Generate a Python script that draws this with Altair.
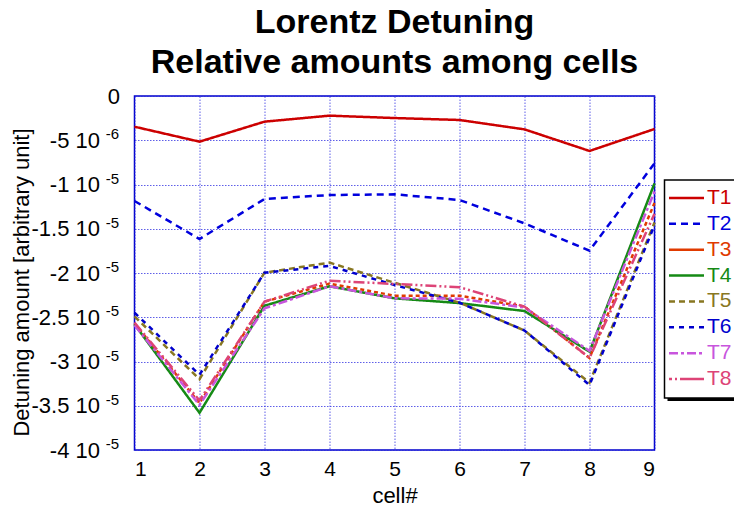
import altair as alt
import pandas as pd

# ---- data (in units of 1e-6) ----
cells = [1, 2, 3, 4, 5, 6, 7, 8, 9]
series_names = ["T1", "T2", "T3", "T4", "T5", "T6", "T7", "T8"]
T1 = [-3.47, -5.16, -2.90, -2.22, -2.49, -2.71, -3.77, -6.21, -3.73]
T2 = [-11.86, -16.16, -11.64, -11.19, -11.11, -11.75, -14.39, -17.48, -7.61]
T3 = [-25.7, -34.7, -23.24, -21.2, -22.56, -22.56, -23.8, -29.6, -12.1]
T4 = [-25.8, -35.8, -23.7, -21.5, -22.86, -23.4, -24.3, -28.9, -9.87]
T5 = [-24.9, -32.0, -19.96, -18.83, -21.1, -23.35, -26.5, -32.4, -14.3]
T6 = [-24.48, -31.5, -19.96, -19.2, -21.36, -23.35, -26.5, -32.66, -14.6]
T7 = [-25.9, -34.9, -24.0, -21.5, -22.86, -22.9, -23.9, -28.8, -10.8]
T8 = [-25.6, -34.4, -23.24, -20.87, -21.24, -21.6, -23.8, -29.6, -13.3]
all_series = [T1, T2, T3, T4, T5, T6, T7, T8]

y_ticks = [0, -5e-6, -1e-5, -1.5e-5, -2e-5, -2.5e-5, -3e-5, -3.5e-5, -4e-5]
y_exponents = ["", "-6", "-5", "-5", "-5", "-5", "-5", "-5", "-5"]

title_lines = ["Lorentz Detuning", "Relative amounts among cells"]
x_title = "cell#"
y_title = "Detuning amount [arbitrary unit]"

# ---- styles ----
colors = ["#cc0000", "#0000dd", "#e03a00", "#158a15", "#887722", "#0000cc", "#c855dd", "#dd4477"]
dashes = [[1, 0], [7, 5], [4, 3], [1, 0], [6, 4], [5, 5], [9, 3, 3, 3], [11, 3, 2, 3, 2, 3]]
legend_dashes = [[1, 0], [7, 5], [1, 0], [1, 0], [6, 4], [5, 5], [9, 3, 3, 3], [3, 3, 2, 3, 22, 0]]
widths = [2.5, 2.5, 2.8, 1.0, 3.2, 3.2, 2.8, 2.8]

FONT = "Liberation Sans"

rows = []
for name, vals in zip(series_names, all_series):
    for c, v in zip(cells, vals):
        rows.append({"cell": c, "series": name, "value": v * 1e-6})
df = pd.DataFrame(rows)

color_scale = alt.Scale(domain=series_names, range=colors)

label_expr = (
    "datum.value == 0 ? '0' : (datum.value > -9.9e-6 ? "
    "'-' + format(-datum.value * 1e6, '.2~f') + ' 10' : "
    "'-' + format(-datum.value * 1e5, '.2~f') + ' 10')"
)

lines = alt.Chart(df).mark_line().encode(
    x=alt.X(
        "cell:Q",
        scale=alt.Scale(domain=[1, 9], nice=False, zero=False),
        axis=alt.Axis(values=cells, title=x_title, format="d", labelPadding=8,
                      labelFontSize=21, titlePadding=6),
    ),
    y=alt.Y(
        "value:Q",
        scale=alt.Scale(domain=[-4e-5, 0], nice=False, zero=False),
        axis=alt.Axis(
            values=y_ticks,
            labelExpr=label_expr,
            title=y_title,
            labelFontSize=22,
            labelPadding={"condition": {"test": "datum.value == 0", "value": 15}, "value": 35},
            titleX=-101,
            titleY=186,
            titleAngle=270,
            titleBaseline="bottom",
        ),
    ),
    color=alt.Color("series:N", scale=color_scale, legend=None),
    strokeDash=alt.StrokeDash("series:N", scale=alt.Scale(domain=series_names, range=dashes), legend=None),
    strokeWidth=alt.StrokeWidth("series:N", scale=alt.Scale(domain=series_names, range=widths), legend=None),
)

sup_df = pd.DataFrame({"value": y_ticks[1:], "exp": y_exponents[1:]})
sups = alt.Chart(sup_df).mark_text(
    align="right", baseline="alphabetic", dy=-1, fontSize=15, font=FONT, color="black"
).encode(
    x=alt.value(-15.5),
    y=alt.Y("value:Q"),
    text="exp:N",
)

main = alt.layer(lines, sups)

# ---- legend ----
leg_df = pd.DataFrame({"series": series_names})
leg_y = alt.Y(
    "series:N",
    scale=alt.Scale(type="point", domain=series_names, range=[102, 283], padding=0),
    axis=None,
)
one = pd.DataFrame({"a": [0]})
shadow = alt.Chart(one).mark_rect(fill="black", stroke="black", strokeWidth=0).encode(
    x=alt.value(533), x2=alt.value(700), y=alt.value(87), y2=alt.value(305)
)
box = alt.Chart(one).mark_rect(fill="white", stroke="black", strokeWidth=1.5).encode(
    x=alt.value(530), x2=alt.value(700), y=alt.value(84), y2=alt.value(302)
)
leg_lines = alt.Chart(leg_df).mark_rule().encode(
    x=alt.value(534.5),
    x2=alt.value(569.5),
    y=leg_y,
    color=alt.Color("series:N", scale=color_scale, legend=None),
    strokeDash=alt.StrokeDash("series:N", scale=alt.Scale(domain=series_names, range=legend_dashes), legend=None),
    strokeWidth=alt.StrokeWidth("series:N", scale=alt.Scale(domain=series_names, range=widths), legend=None),
)
leg_text = alt.Chart(leg_df).mark_text(align="left", baseline="middle", fontSize=21, font=FONT).encode(
    x=alt.value(572.5),
    y=leg_y,
    text="series:N",
    color=alt.Color("series:N", scale=color_scale, legend=None),
)
legend = alt.layer(shadow, box, leg_lines, leg_text)

chart = (
    alt.layer(main, legend)
    .resolve_scale(y="independent", color="independent", strokeDash="independent", strokeWidth="independent")
    .properties(
        width=520,
        height=354,
        autosize=alt.AutoSizeParams(type="none"),
        padding={"left": 134.5, "top": 96, "right": 79.5, "bottom": 65},
        title=alt.TitleParams(
            text=title_lines,
            fontSize=34,
            font=FONT,
            fontWeight="bold",
            anchor="middle",
            lineHeight=40,
            offset=5,
            color="black",
        ),
    )
    .configure_view(stroke="#0000cc", strokeWidth=1.5)
    .configure_axis(
        grid=True,
        gridColor="#2a2ae0",
        gridDash=[1.5, 1.5],
        gridOpacity=0.75,
        gridWidth=1,
        domain=False,
        ticks=False,
        labelFont=FONT,
        labelFontSize=20,
        labelColor="black",
        titleFont=FONT,
        titleFontSize=22,
        titleFontWeight="normal",
        titleColor="black",
    )
)

chart.save("out.html", embed_options={"renderer": "svg", "actions": False})
